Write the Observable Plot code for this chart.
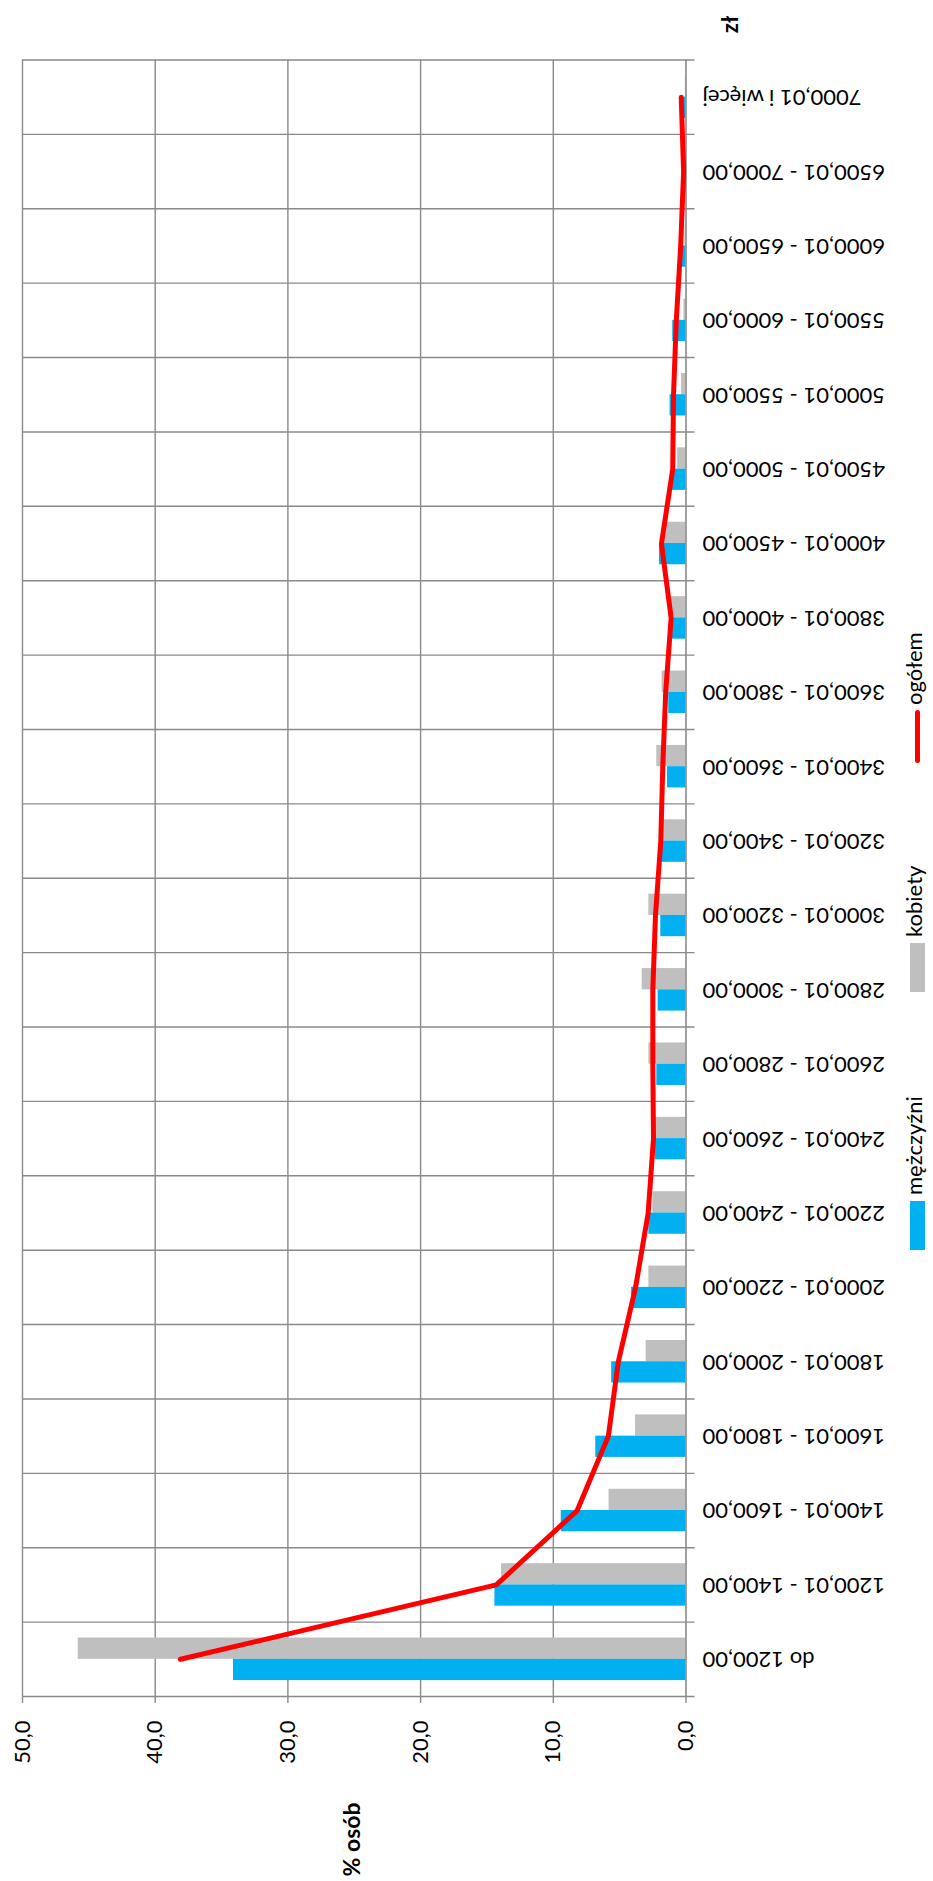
<!DOCTYPE html>
<html>
<head>
<meta charset="utf-8">
<script src="https://cdn.jsdelivr.net/npm/d3@7"></script>
<script src="https://cdn.jsdelivr.net/npm/@observablehq/plot@0.6"></script>
<style>
  html, body { margin: 0; padding: 0; background: #fff; }
  #wrap { position: relative; width: 933px; height: 1881px; overflow: hidden; font-family: Lato, "Open Sans", sans-serif; }
  .lg { position: absolute; white-space: nowrap; font-size: 22px; line-height: 22px; color: #000;
        transform-origin: 0 0; transform: rotate(-90deg) translateY(-50%); }
  .sw { position: absolute; }
</style>
</head>
<body>
<div id="wrap"></div>
<script>
// ---- data ----
const categories = [
  "do 1200,00", "1200,01 - 1400,00", "1400,01 - 1600,00", "1600,01 - 1800,00",
  "1800,01 - 2000,00", "2000,01 - 2200,00", "2200,01 - 2400,00", "2400,01 - 2600,00",
  "2600,01 - 2800,00", "2800,01 - 3000,00", "3000,01 - 3200,00", "3200,01 - 3400,00",
  "3400,01 - 3600,00", "3600,01 - 3800,00", "3800,01 - 4000,00", "4000,01 - 4500,00",
  "4500,01 - 5000,00", "5000,01 - 5500,00", "5500,01 - 6000,00", "6000,01 - 6500,00",
  "6500,01 - 7000,00", "7000,01 i więcej"
];
const men   = [34.1, 14.4, 9.4, 6.8, 5.6, 4.1, 2.8, 2.3, 2.2, 2.1, 1.9, 1.8, 1.4, 1.3, 1.05, 2.0, 1.1, 1.2, 1.0, 0.45, 0.08, 0.4];
const women = [45.8, 13.9, 5.8, 3.8, 3.0, 2.8, 2.5, 2.3, 2.8, 3.3, 2.8, 1.7, 2.2, 1.8, 1.1, 1.65, 0.63, 0.33, 0.15, 0.08, 0.03, 0.05];
const total = [38.1, 14.3, 8.2, 5.85, 5.1, 3.8, 2.85, 2.45, 2.5, 2.5, 2.3, 1.9, 1.75, 1.53, 1.12, 1.85, 1.0, 0.94, 0.73, 0.4, 0.18, 0.36];
const xTicks = [0, 10, 20, 30, 40, 50];
const seriesNames = ["mężczyźni", "kobiety", "ogółem"];
const axisTitle = "% osób";
const unitTitle = "zł";

// ---- layout / style ----
const W = 933, H = 1881;
const mL = 22, mR = 247.5, mT = 59.5, mB = 185;
const band = (H - mT - mB) / categories.length;
const bar = band / 3.5;
const outer = bar * 0.75;
const gridColor = "#8a8a8a";
const blue = "#00B0F0", gray = "#BFBFBF", red = "#FF0000";
const fmt = d => d.toFixed(1).replace(".", ",");

const table = categories.map((c, i) => ({c, men: men[i], women: women[i], total: total[i]}));

const chart = Plot.plot({
  width: W,
  height: H,
  marginLeft: mL, marginRight: mR, marginTop: mT, marginBottom: mB,
  style: {fontFamily: "Lato, 'Open Sans', sans-serif", fontSize: "22px", color: "#000", background: "#fff", overflow: "visible"},
  x: {domain: [0, 50], reverse: true},
  y: {domain: categories, reverse: true, padding: 0, round: false, axis: null},
  marks: [
    // vertical gridlines
    Plot.ruleX(xTicks.filter(d => d !== 0), {x: d => d, stroke: gridColor, strokeWidth: 1.4}),
    // horizontal gridlines at category boundaries
    Plot.ruleY(categories, {y: d => d, dy: band / 2, stroke: gridColor, strokeWidth: 1.4, insetRight: -9}),
    Plot.ruleY([categories[categories.length - 1]], {y: d => d, dy: -band / 2, stroke: gridColor, strokeWidth: 1.4, insetRight: -9}),
    // bars
    Plot.barX(table, {y: "c", x: "women", fill: gray, insetTop: outer, insetBottom: outer + bar}),
    Plot.barX(table, {y: "c", x: "men", fill: blue, insetTop: outer + bar, insetBottom: outer}),
    // category axis line
    Plot.ruleX([0], {stroke: gridColor, strokeWidth: 1.6}),
    // total line
    Plot.line(table, {y: "c", x: "total", stroke: red, strokeWidth: 5, strokeLinejoin: "round", strokeLinecap: "round"}),
    // value axis
    Plot.axisX({anchor: "bottom", ticks: xTicks, tickFormat: fmt, tickRotate: -90, tickSize: 7, tickPadding: 17, stroke: gridColor, strokeWidth: 1.4, fontSize: 22, label: null}),
    // category labels
    Plot.text(categories, {y: d => d, text: d => d, frameAnchor: "right", dx: 16.5, rotate: 180, textAnchor: "end", fontSize: 22, fill: "#000"}),
    // axis titles
    Plot.text([axisTitle], {frameAnchor: "bottom-left", dx: 337, dy: 143, rotate: -90, textAnchor: "middle", fontSize: 23, fontWeight: "bold", fill: "#000"}),
    Plot.text([unitTitle], {frameAnchor: "top-right", dx: 36, dy: -35.5, rotate: -90, textAnchor: "middle", fontSize: 22, fontWeight: "bold", fill: "#000"})
  ]
});
const wrap = document.getElementById("wrap");
chart.style.position = "absolute";
chart.style.left = "0px";
chart.style.top = "0px";
wrap.appendChild(chart);

// ---- legend (right side, rotated) ----
const legendItems = [
  {name: seriesNames[0], kind: "bar", color: blue, swTop: 1201, swH: 49, textY: 1195},
  {name: seriesNames[1], kind: "bar", color: gray, swTop: 943, swH: 49, textY: 937},
  {name: seriesNames[2], kind: "line", color: red, swTop: 710, swH: 53, textY: 705}
];
for (const it of legendItems) {
  const sw = document.createElement("div");
  sw.className = "sw";
  if (it.kind === "bar") {
    sw.style.left = "910px"; sw.style.width = "15px";
    sw.style.top = it.swTop + "px"; sw.style.height = it.swH + "px";
  } else {
    sw.style.left = "915px"; sw.style.width = "5px";
    sw.style.top = it.swTop + "px"; sw.style.height = it.swH + "px";
    sw.style.borderRadius = "3px";
  }
  sw.style.background = it.color;
  wrap.appendChild(sw);
  const t = document.createElement("div");
  t.className = "lg";
  t.textContent = it.name;
  t.style.left = "914px";
  t.style.top = it.textY + "px";
  wrap.appendChild(t);
}
</script>
</body>
</html>
